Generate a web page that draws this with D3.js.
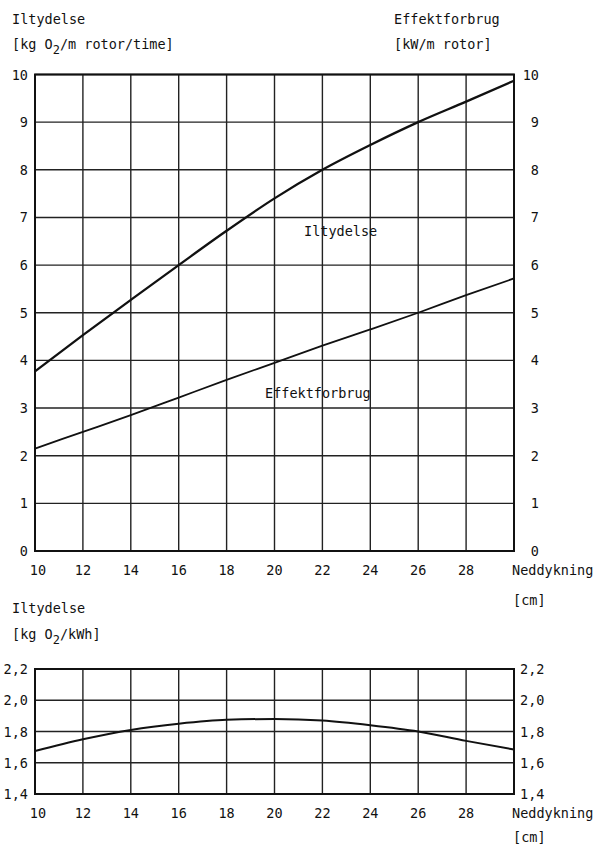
<!DOCTYPE html>
<html>
<head>
<meta charset="utf-8">
<script src="https://cdn.jsdelivr.net/npm/d3@7/dist/d3.min.js"></script>
<style>
  html, body { margin: 0; padding: 0; background: #fff; }
  svg text { font-family: "DejaVu Sans Mono", "Liberation Mono", monospace; font-size: 13.5px; fill: #111; }
</style>
</head>
<body>
<svg id="chart" width="600" height="846"></svg>
<script>
// Neddykning (immersion depth, cm)
const depth = [10, 12, 14, 16, 18, 20, 22, 24, 26, 28, 30];
// Oxygen input per metre rotor [kg O2/m rotor/time]
const oxygenPerRotor = [3.77, 4.53, 5.27, 6.0, 6.72, 7.40, 8.0, 8.52, 9.0, 9.43, 9.87];
// Power consumption per metre rotor [kW/m rotor]
const powerPerRotor = [2.15, 2.50, 2.85, 3.22, 3.59, 3.95, 4.31, 4.65, 5.0, 5.37, 5.72];
// Oxygen input per kWh [kg O2/kWh]
const oxygenPerKWh = [1.675, 1.75, 1.81, 1.85, 1.875, 1.88, 1.87, 1.84, 1.80, 1.74, 1.685];

const xTicks = [10, 12, 14, 16, 18, 20, 22, 24, 26, 28];
const xGrid = [12, 14, 16, 18, 20, 22, 24, 26, 28];
const upperTicks = [0, 1, 2, 3, 4, 5, 6, 7, 8, 9, 10];
const lowerTicks = [1.4, 1.6, 1.8, 2.0, 2.2];

const svg = d3.select("#chart");

const x = d3.scaleLinear().domain([10, 30]).range([35, 514]);
const yUpper = d3.scaleLinear().domain([0, 10]).range([551, 74.5]);
const yLower = d3.scaleLinear().domain([1.4, 2.2]).range([794, 669]);

const commaFmt = d => d3.format(".1f")(d).replace(".", ",");

function panel(y, ticks, fmt, rightAnchor, rightX, cmOffset) {
  const g = svg.append("g");
  // grid
  g.selectAll(".hg").data(ticks).join("line")
    .attr("x1", x(10)).attr("x2", x(30))
    .attr("y1", d => y(d)).attr("y2", d => y(d))
    .attr("stroke", "#222").attr("stroke-width", 1.4);
  g.selectAll(".vg").data(xGrid).join("line")
    .attr("x1", d => x(d)).attr("x2", d => x(d))
    .attr("y1", y.range()[0]).attr("y2", y.range()[1])
    .attr("stroke", "#222").attr("stroke-width", 1.4);
  // frame
  g.append("rect")
    .attr("x", x(10)).attr("y", y.range()[1])
    .attr("width", x(30) - x(10)).attr("height", y.range()[0] - y.range()[1])
    .attr("fill", "none").attr("stroke", "#111").attr("stroke-width", 2);
  // left tick labels
  g.selectAll(".ly").data(ticks).join("text")
    .attr("x", 28).attr("y", d => y(d) + 5)
    .attr("text-anchor", "end").text(fmt);
  // right tick labels
  g.selectAll(".ry").data(ticks).join("text")
    .attr("x", rightX).attr("y", d => y(d) + 5)
    .attr("text-anchor", rightAnchor).text(fmt);
  // x tick labels
  g.selectAll(".xl").data(xTicks).join("text")
    .attr("x", d => x(d) + (d === 10 ? 3 : 0)).attr("y", y.range()[0] + 24)
    .attr("text-anchor", "middle").text(d => d);
  g.append("text").attr("x", 512).attr("y", y.range()[0] + 24).text("Neddykning");
  g.append("text").attr("x", 513).attr("y", y.range()[0] + cmOffset).text("[cm]");
  return g;
}

function curve(g, y, values, width) {
  const line = d3.line()
    .x((d, i) => x(depth[i]))
    .y(d => y(d))
    .curve(d3.curveMonotoneX);
  g.append("path").datum(values)
    .attr("d", line)
    .attr("fill", "none").attr("stroke", "#111")
    .attr("stroke-width", width).attr("stroke-linejoin", "round");
}

function unitLabel(xPos, yPos, before, sub, after) {
  const t = svg.append("text").attr("x", xPos).attr("y", yPos);
  t.append("tspan").text(before);
  if (sub) {
    t.append("tspan").attr("dy", 5).attr("font-size", 12).text(sub);
    t.append("tspan").attr("dy", -5).text(after);
  }
  return t;
}

// ---- upper panel ----
const upperPanel = panel(yUpper, upperTicks, d => d, "end", 539, 54);
curve(upperPanel, yUpper, oxygenPerRotor, 2.3);
curve(upperPanel, yUpper, powerPerRotor, 1.8);
upperPanel.append("text").attr("x", 304).attr("y", 236).text("Iltydelse");
upperPanel.append("text").attr("x", 265).attr("y", 398).text("Effektforbrug");

unitLabel(12, 24, "Iltydelse");
unitLabel(12, 49, "[kg O", "2", "/m rotor/time]");
unitLabel(394, 24, "Effektforbrug");
unitLabel(394, 49, "[kW/m rotor]");

// ---- lower panel ----
const lowerPanel = panel(yLower, lowerTicks, commaFmt, "start", 520, 48);
curve(lowerPanel, yLower, oxygenPerKWh, 2);

unitLabel(12, 613, "Iltydelse");
unitLabel(12, 639, "[kg O", "2", "/kWh]");
</script>
</body>
</html>
